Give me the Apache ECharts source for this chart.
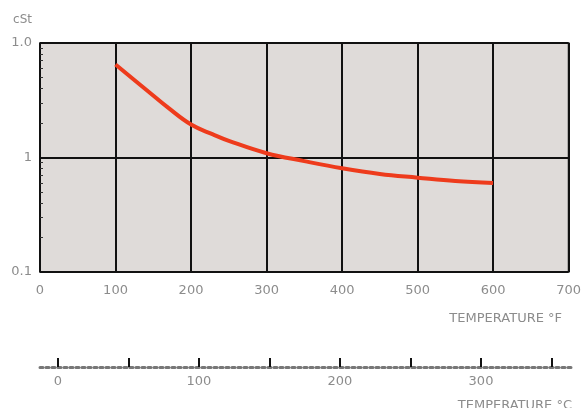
<!DOCTYPE html>
<html>
<head>
<meta charset="utf-8">
<script src="https://cdn.jsdelivr.net/npm/echarts@6/dist/echarts.min.js"></script>
<style>html,body{margin:0;padding:0;background:#fff}#c{width:584px;height:408px}</style>
</head>
<body>
<div id="c"></div>
<script>
// Temperature in °F
const temperatureF = [100, 141, 170, 200, 229, 251, 300, 350, 400, 450, 500, 550, 600];
// Viscosity in cSt
const viscosity = [6.49, 3.89, 2.71, 1.94, 1.59, 1.39, 1.09, 0.93, 0.805, 0.718, 0.667, 0.623, 0.60];
const fTicks = [0, 100, 200, 300, 400, 500, 600, 700];
const cTicks = [0, 50, 100, 150, 200, 250, 300, 350];
const cLabels = [0, 100, 200, 300];
const yLabels = {10: '1.0', 1: '1', 0.1: '0.1'};

const txt = '#8c8c8c';
const font = 'DejaVu Sans';
const chart = echarts.init(document.getElementById('c'), null, {renderer: 'canvas'});
chart.setOption({
  animation: false,
  backgroundColor: '#fff',
  title: [
    {text: 'TEMPERATURE °F', right: 22, top: 312, padding: 0, textStyle: {color: txt, fontSize: 13, fontWeight: 'normal', fontFamily: font}},
    {text: 'TEMPERATURE °C', right: 12, top: 399, padding: 0, textStyle: {color: txt, fontSize: 13, fontWeight: 'normal', fontFamily: font}}
  ],
  grid: [
    {left: 40, top: 43, width: 530, height: 229, show: true, backgroundColor: '#dfdbd9', borderColor: '#6a6a6a', borderWidth: 2},
    {left: 40, top: 367, width: 532, height: 0}
  ],
  xAxis: [
    {
      type: 'value', gridIndex: 0, min: 0, max: 700, interval: 100,
      axisLine: {show: false}, axisTick: {show: false},
      axisLabel: {color: txt, fontSize: 13, fontFamily: font, margin: 12,
        customValues: fTicks},
      splitLine: {show: true, lineStyle: {color: '#111', width: 2}}
    },
    {
      type: 'value', gridIndex: 1, min: -12.6, max: 364.5,
      axisLine: {show: true, lineStyle: {color: '#777', width: 3, type: 'dotted'}},
      axisTick: {show: true, inside: true, length: 9, lineStyle: {color: '#111', width: 2}, customValues: cTicks},
      axisLabel: {color: txt, fontSize: 13, fontFamily: font, margin: 8, customValues: cLabels},
      splitLine: {show: false}
    }
  ],
  yAxis: [
    {
      type: 'log', gridIndex: 0, logBase: 10, min: 0.1, max: 10,
      name: 'cSt', nameLocation: 'end', nameGap: 17,
      nameTextStyle: {color: txt, fontSize: 12, fontFamily: font, align: 'right', padding: [0, 8, 0, 0]},
      axisLine: {show: false},
      axisTick: {show: false, inside: true},
      minorTick: {show: true, splitNumber: 9, length: 3, lineStyle: {color: '#333', width: 1}},
      axisLabel: {color: txt, fontSize: 13, fontFamily: font, margin: 8,
        formatter: v => yLabels[v] !== undefined ? yLabels[v] : ''},
      splitLine: {show: true, lineStyle: {color: '#111', width: 2}}
    },
    {type: 'value', gridIndex: 1, show: false, min: 0, max: 1}
  ],
  series: [{
    type: 'line', xAxisIndex: 0, yAxisIndex: 0,
    data: temperatureF.map((t, i) => [t, viscosity[i]]),
    smooth: 0.4, showSymbol: false,
    lineStyle: {color: '#ee3b1c', width: 4}
  }]
});
</script>
</body>
</html>
